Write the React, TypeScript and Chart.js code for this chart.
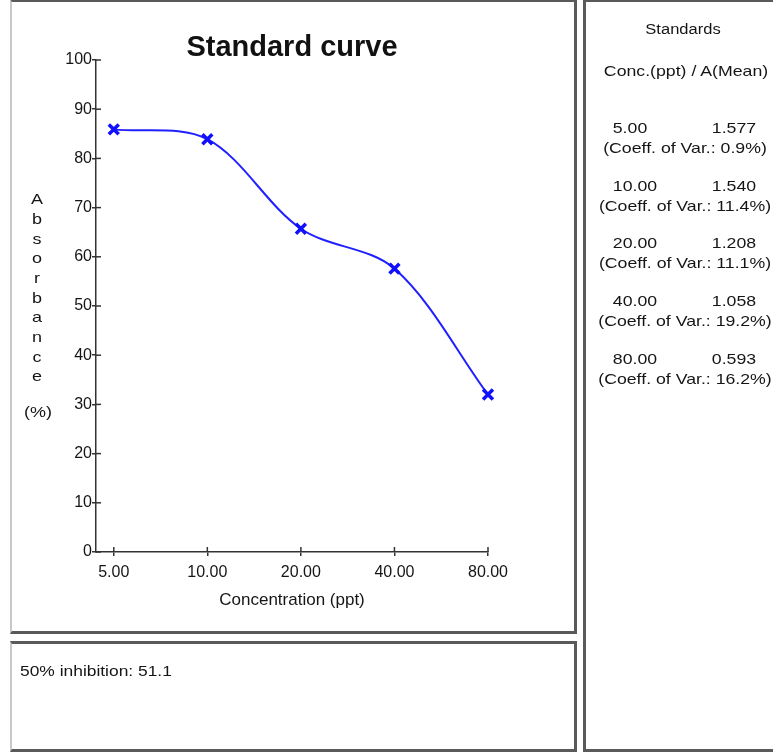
import React, { useEffect, useRef } from "react";
import { Chart, registerables } from "chart.js";

Chart.register(...registerables);

// ---------- data ----------
const concLabels = ["5.00", "10.00", "20.00", "40.00", "80.00"];
const absorbancePct = [85.9, 83.9, 65.7, 57.6, 32.0];
const yTickValues = [0, 10, 20, 30, 40, 50, 60, 70, 80, 90, 100];
const meanA = ["1.577", "1.540", "1.208", "1.058", "0.593"];
const coeffVar = ["0.9%", "11.4%", "11.1%", "19.2%", "16.2%"];
const chartTitle = "Standard curve";
const xTitle = "Concentration (ppt)";
const yTitleLetters = ["A", "b", "s", "o", "r", "b", "a", "n", "c", "e"];
const yTitleUnit = "(%)";
const inhibitionText = "50% inhibition: 51.1";

const FONT = "'Liberation Sans', Arial, Helvetica, sans-serif";
const BLUE = "#2020ff";
const INK = "#151515";

const decorPlugin = {
  id: "decor",
  afterDraw(chart: any) {
    const ctx = chart.ctx;
    const xs = chart.scales.x;
    const ys = chart.scales.y;
    ctx.save();
    ctx.strokeStyle = "#333";
    ctx.lineWidth = 1.5;
    // inner half of tick marks
    ys.ticks.forEach((t: any) => {
      const py = ys.getPixelForValue(t.value);
      ctx.beginPath();
      ctx.moveTo(chart.chartArea.left, py);
      ctx.lineTo(chart.chartArea.left + 5, py);
      ctx.stroke();
    });
    xs.ticks.forEach((t: any) => {
      const px = xs.getPixelForValue(t.value);
      ctx.beginPath();
      ctx.moveTo(px, chart.chartArea.bottom);
      ctx.lineTo(px, chart.chartArea.bottom - 5);
      ctx.stroke();
    });
    // stacked y-axis title
    ctx.fillStyle = INK;
    ctx.font = `15px ${FONT}`;
    ctx.textAlign = "center";
    ctx.textBaseline = "middle";
    yTitleLetters.forEach((ch, i) => {
      ctx.save();
      ctx.translate(37, 200 + i * 19.7);
      ctx.scale(1.2, 1);
      ctx.fillText(ch, 0, 0);
      ctx.restore();
    });
    ctx.save();
    ctx.translate(38, 413);
    ctx.scale(1.2, 1);
    ctx.fillText(yTitleUnit, 0, 0);
    ctx.restore();
    ctx.restore();
  },
};

function ChartPanel() {
  const ref = useRef<HTMLCanvasElement | null>(null);
  useEffect(() => {
    if (!ref.current) return;
    const chart = new Chart(ref.current, {
      type: "line",
      data: {
        datasets: [
          {
            data: absorbancePct.map((v, i) => ({ x: i, y: v })),
            borderColor: BLUE,
            backgroundColor: BLUE,
            borderWidth: 2,
            tension: 0.33,
            pointStyle: "crossRot",
            pointRadius: 7,
            pointBorderWidth: 3.5,
            pointBorderColor: "#1010ff",
            fill: false,
            clip: false,
          },
        ],
      },
      options: {
        animation: false,
        responsive: false,
        devicePixelRatio: 1,
        layout: { padding: { left: 0, right: 92, top: 0, bottom: 29 } },
        plugins: {
          legend: { display: false },
          tooltip: { enabled: false },
          title: {
            display: true,
            text: chartTitle,
            fullSize: false,
            color: "#111",
            font: { family: FONT, size: 29, weight: "bold", lineHeight: 1 },
            padding: { top: 33, bottom: -2 },
          },
        },
        scales: {
          x: {
            type: "linear",
            min: -0.19,
            max: concLabels.length - 1,
            afterBuildTicks: (scale: any) => {
              scale.ticks = concLabels.map((_, i) => ({ value: i }));
            },
            afterFit: (scale: any) => {
              scale.height = 59;
            },
            ticks: {
              callback: (v: any) => concLabels[Math.round(Number(v))] ?? "",
              color: INK,
              font: { family: FONT, size: 16 },
              padding: 7,
              maxRotation: 0,
              autoSkip: false,
            },
            grid: {
              display: true,
              drawOnChartArea: false,
              drawTicks: true,
              tickLength: 4,
              color: "#333",
              lineWidth: 1.5,
            },
            border: { display: true, color: "#333", width: 1.5 },
            title: {
              display: true,
              text: xTitle,
              color: INK,
              font: { family: FONT, size: 17, lineHeight: 1.2 },
              padding: { top: 0, bottom: 0 },
            },
          },
          y: {
            type: "linear",
            min: yTickValues[0],
            max: yTickValues[yTickValues.length - 1],
            afterBuildTicks: (scale: any) => {
              scale.ticks = yTickValues.map((v) => ({ value: v }));
            },
            afterFit: (scale: any) => {
              scale.width = 96;
            },
            ticks: {
              color: INK,
              font: { family: FONT, size: 16 },
              padding: 0,
              autoSkip: false,
            },
            grid: {
              display: true,
              drawOnChartArea: false,
              drawTicks: true,
              tickLength: 4,
              color: "#333",
              lineWidth: 1.5,
            },
            border: { display: true, color: "#333", width: 1.5 },
          },
        },
      },
      plugins: [decorPlugin],
    } as any);
    return () => chart.destroy();
  }, []);
  return (
    <canvas
      ref={ref}
      width={580}
      height={640}
      style={{ position: "absolute", left: 0, top: 0, width: 580, height: 640 }}
    />
  );
}

function T(props: {
  x: number;
  y: number;
  children: React.ReactNode;
  size?: number;
  sx?: number;
  left?: boolean;
}) {
  const { x, y, children, size = 15, sx = 1.18, left = false } = props;
  return (
    <div
      style={{
        position: "absolute",
        left: x,
        top: y,
        transform: left
          ? `translateY(-50%) scaleX(${sx})`
          : `translate(-50%, -50%) scaleX(${sx})`,
        transformOrigin: left ? "left center" : "center center",
        whiteSpace: "nowrap",
        fontSize: size,
        fontFamily: FONT,
        color: INK,
        lineHeight: 1,
      }}
    >
      {children}
    </div>
  );
}

const panelBase: React.CSSProperties = {
  position: "absolute",
  boxSizing: "border-box",
  borderTop: "3px solid #5a5a5a",
  borderRight: "3px solid #5a5a5a",
  borderBottom: "3px solid #5a5a5a",
  borderLeft: "2px solid #c8c8c8",
  pointerEvents: "none",
};

export default function App() {
  const rowY = (i: number) => 127 + i * 57.7;
  return (
    <div
      style={{
        position: "absolute",
        left: 0,
        top: 0,
        width: 773,
        height: 753,
        background: "#fff",
        overflow: "hidden",
      }}
    >
      <ChartPanel />
      <div style={{ ...panelBase, left: 10, top: -1, width: 567, height: 635 }} />
      <div style={{ ...panelBase, left: 10, top: 641, width: 567, height: 111 }} />
      <div
        style={{
          ...panelBase,
          left: 583,
          top: -1,
          width: 200,
          height: 753,
          borderLeft: "3px solid #5a5a5a",
        }}
      />
      <T x={20} y={670} left sx={1.16}>
        {inhibitionText}
      </T>
      <T x={683} y={29} size={14}>
        Standards
      </T>
      <T x={686} y={70}>
        Conc.(ppt) / A(Mean)
      </T>
      {concLabels.map((c, i) => (
        <React.Fragment key={c}>
          <T x={i === 0 ? 630 : 635} y={rowY(i)}>
            {c}
          </T>
          <T x={734} y={rowY(i)}>
            {meanA[i]}
          </T>
          <T x={685} y={rowY(i) + 20}>
            {`(Coeff. of Var.: ${coeffVar[i]})`}
          </T>
        </React.Fragment>
      ))}
    </div>
  );
}
